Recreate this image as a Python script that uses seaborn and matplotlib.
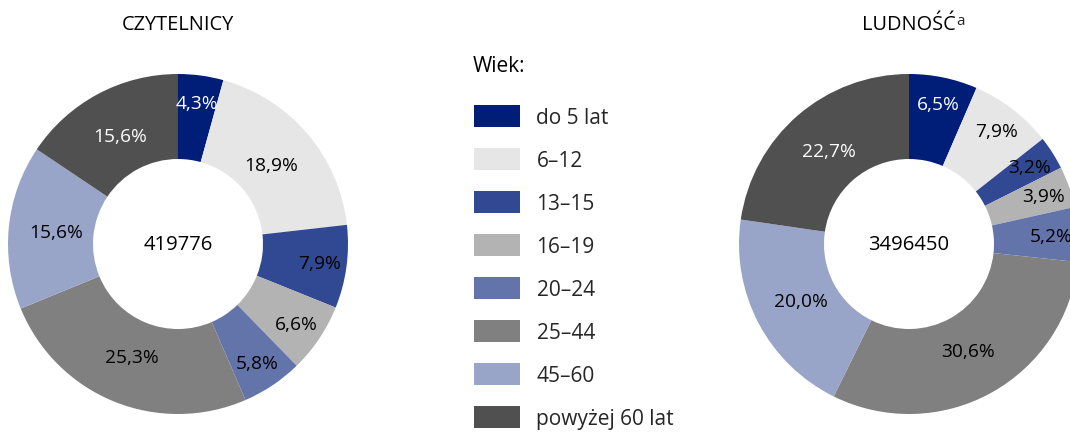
import matplotlib
matplotlib.use("Agg")
import matplotlib.pyplot as plt
from matplotlib.patches import Patch
import numpy as np
import seaborn as sns

sns.set_theme(style="white")
plt.rcParams['font.family'] = ['Open Sans', 'DejaVu Sans']

categories = ["do 5 lat", "6–12", "13–15", "16–19", "20–24", "25–44", "45–60", "powyżej 60 lat"]
colors = ["#001D77", "#E6E6E6", "#314893", "#B3B3B3", "#6374AA", "#808080", "#98A5C8", "#505050"]
label_colors = ["white", "black", "black", "black", "black", "black", "black", "white"]

czytelnicy = [4.3, 18.9, 7.9, 6.6, 5.8, 25.3, 15.6, 15.6]
ludnosc = [6.5, 7.9, 3.2, 3.9, 5.2, 30.6, 20.0, 22.7]
totals = ["419776", "3496450"]
titles = ["CZYTELNICY", "LUDNOŚĆ"]
legend_title = "Wiek:"

W, H = 1070, 435
fig = plt.figure(figsize=(W / 100, H / 100), dpi=100)

def donut(rect, values, total, title, sup=None):
    ax = fig.add_axes(rect)
    wedges, _ = ax.pie(values, colors=colors, startangle=90, counterclock=False,
                       radius=1.0, wedgeprops=dict(width=0.5, linewidth=0))
    for w, v, lc in zip(wedges, values, label_colors):
        ang = np.deg2rad((w.theta1 + w.theta2) / 2)
        r = 0.72 if v >= 10 else 0.84
        ax.text(r * np.cos(ang), r * np.sin(ang), f"{v:.1f}".replace(".", ",") + "%",
                ha="center", va="center", fontsize=13.8, color=lc)
    ax.text(0, 0, total, ha="center", va="center", fontsize=14.6, color="black")
    ax.set_xlim(-1, 1)
    ax.set_ylim(-1, 1)
    ax.set_aspect("equal")
    ax.axis("off")
    t = ax.text(0.5, 1.147, title, transform=ax.transAxes, ha="center", va="center",
                fontsize=14.4, color="black")
    if sup:
        ax.annotate(sup, xy=(1, 1), xycoords=t, ha="left", va="top", fontsize=11,
                    xytext=(0, 1), textcoords="offset points")
    return ax

donut([8 / W, 20 / H, 340 / W, 340 / H], czytelnicy, totals[0], titles[0])
donut([739 / W, 20 / H, 340 / W, 340 / H], ludnosc, totals[1], titles[1], sup="a")

fig.text(473 / W, 1 - 67 / H, legend_title, ha="left", va="center", fontsize=15, color="black")
handles = [Patch(facecolor=c, edgecolor="none") for c in colors]
fig.legend(handles, categories, loc="upper left", bbox_to_anchor=(474 / W, 1 - 106 / H),
           frameon=False, fontsize=15, handlelength=2.2, handleheight=1.25,
           handletextpad=0.8, labelspacing=0.96, borderpad=0, borderaxespad=0)

fig.savefig("out.png", dpi=100, facecolor="white")
